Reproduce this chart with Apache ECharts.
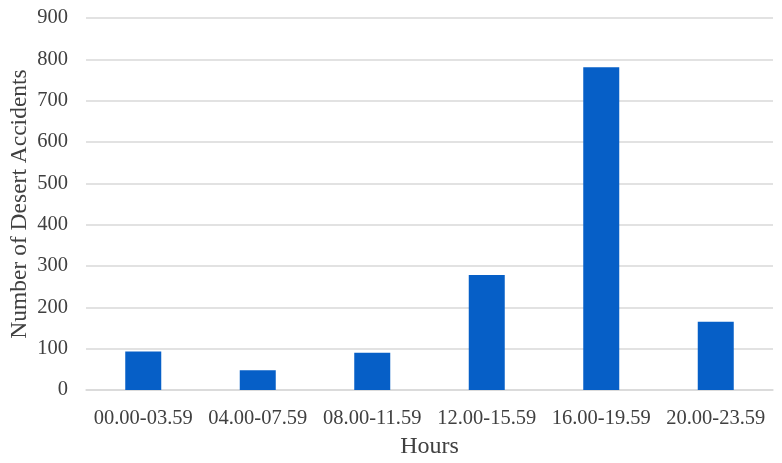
<!DOCTYPE html>
<html>
<head>
<meta charset="utf-8">
<script src="https://cdn.jsdelivr.net/npm/echarts@6/dist/echarts.min.js"></script>
<style>
html, body { margin: 0; padding: 0; background: #fff; }
#chart { width: 782px; height: 463px; }
</style>
</head>
<body>
<div id="chart"></div>
<script>
var hours = ['00.00-03.59', '04.00-07.59', '08.00-11.59', '12.00-15.59', '16.00-19.59', '20.00-23.59'];
var accidents = [93, 48, 90, 278, 781, 165];

var chart = echarts.init(document.getElementById('chart'));
var font = '"Liberation Serif", "Times New Roman", serif';

var option = {
    animation: false,
    grid: { left: 86, right: 9, top: 18, bottom: 73, outerBoundsMode: 'none' },
    xAxis: {
        type: 'category',
        data: hours,
        name: 'Hours',
        nameLocation: 'middle',
        nameGap: 45,
        nameMoveOverlap: false,
        nameTextStyle: { fontFamily: font, fontSize: 24, color: '#404040' },
        axisLine: { lineStyle: { color: '#d9d9d9', width: 1.5 } },
        axisTick: { show: false },
        axisLabel: { fontFamily: font, fontSize: 20.5, color: '#404040', margin: 18, interval: 0 }
    },
    yAxis: {
        type: 'value',
        min: 0,
        max: 900,
        interval: 100,
        name: 'Number of Desert Accidents',
        nameLocation: 'middle',
        nameGap: 54,
        nameMoveOverlap: false,
        nameTextStyle: { fontFamily: font, fontSize: 23.5, color: '#404040' },
        axisLine: { show: false },
        axisTick: { show: false },
        splitLine: { lineStyle: { color: '#d9d9d9', width: 1.5 } },
        axisLabel: { fontFamily: font, fontSize: 20.5, color: '#404040', margin: 18 }
    },
    series: [{
        type: 'bar',
        data: accidents,
        barWidth: 36,
        itemStyle: { color: '#065FC7' }
    }]
};
chart.setOption(option);
</script>
</body>
</html>
